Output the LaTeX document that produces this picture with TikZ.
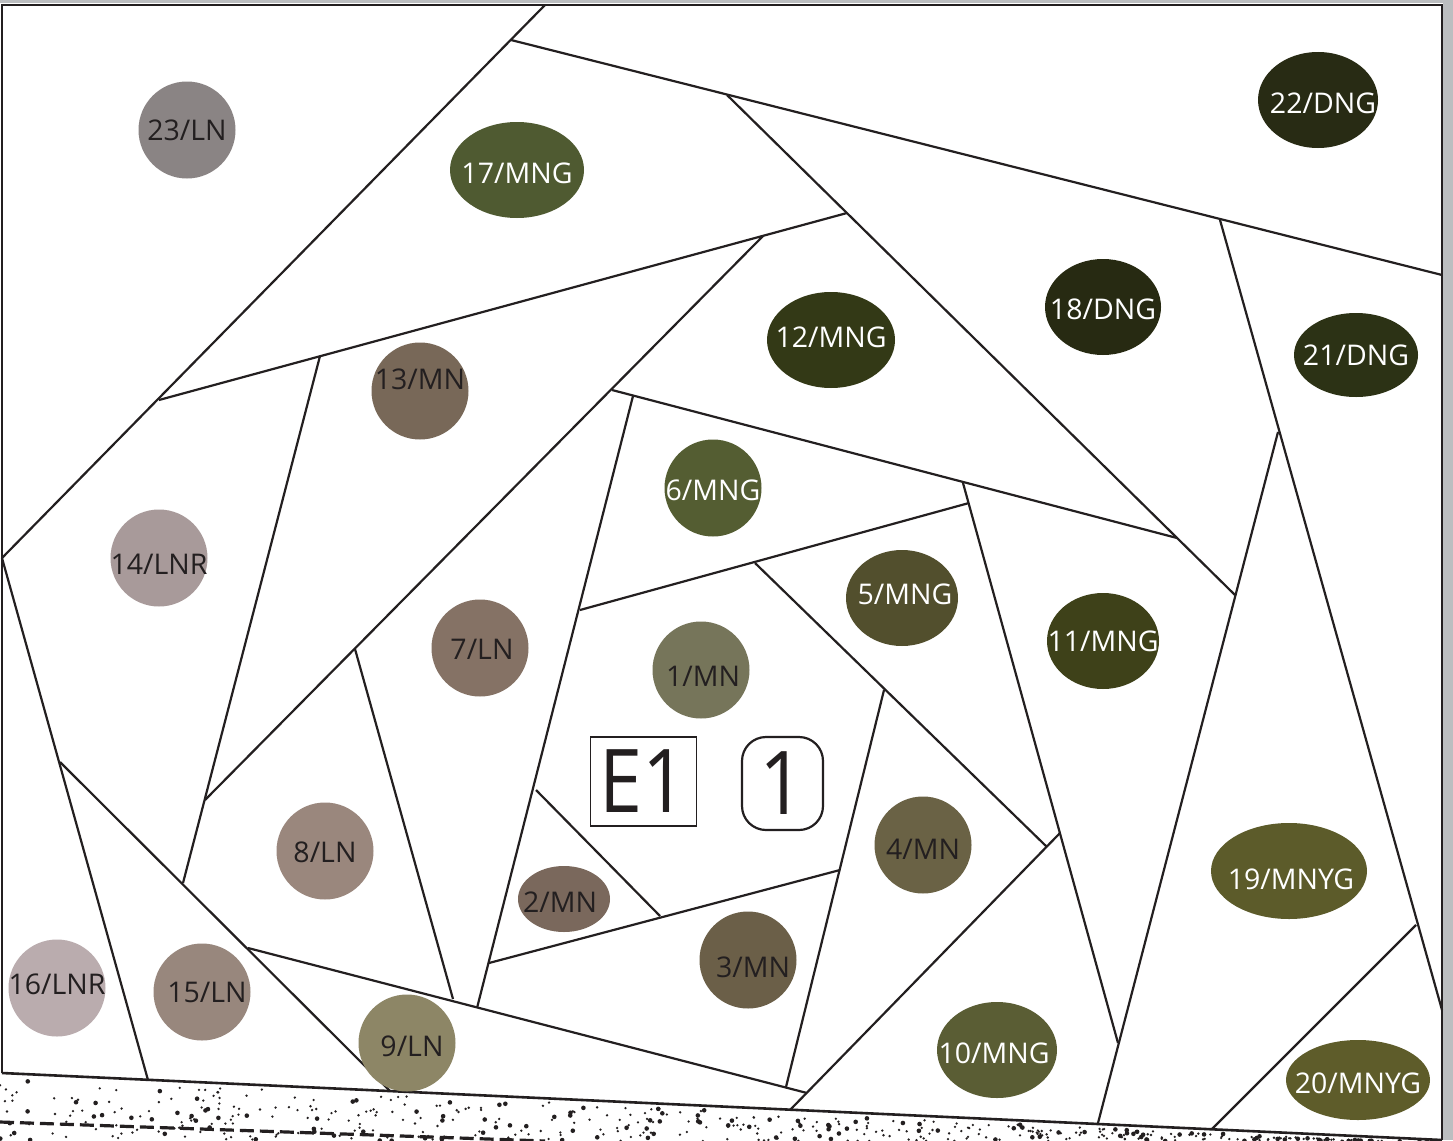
\documentclass[tikz,border=0pt]{standalone}
\usepackage{fontspec}
\setmainfont{Open Sans}
\usetikzlibrary{shapes.geometric,calc}
\definecolor{ink}{HTML}{231F20}
\definecolor{edge}{HTML}{BCBEC0}
\tikzset{
  seam/.style={draw=ink, line width=2.2pt},
  frameline/.style={draw=ink, line width=2.6pt},
  blob/.style={ellipse, draw=none, inner sep=0pt, outer sep=0pt},
  lbl/.style={inner sep=0pt, font=\fontsize{28.5}{30}\selectfont},
  darklbl/.style={lbl, text=ink},
  lightlbl/.style={lbl, text=white},
}
\newcommand{\blobnode}[9]{%
  \definecolor{col#1}{HTML}{#6}%
  \node[blob, fill=col#1, minimum width=#4pt, minimum height=#5pt] (#1) at (#2,#3) {};
  \node[#7] (#1t) at ($(#1)+(#9)$) {#8};
}
\begin{document}
\begin{tikzpicture}[x=1pt,y=-1pt]
\useasboundingbox (0,0) rectangle (1453,1140);
\fill[white] (0,0) rectangle (1453,1140);
\fill[edge] (0,0) rectangle (1453,3);
\fill[edge] (1443,0) rectangle (1453,1140);

% coordinates
\coordinate (TL) at (2,5);
\coordinate (TR) at (1442,5);
\coordinate (BR) at (1442,1140);
\coordinate (BL) at (2,1073);
\coordinate (a1) at (545,5);    \coordinate (a1e) at (2,558);
\coordinate (a2) at (511,40);   \coordinate (a2e) at (1442,275);
\coordinate (a3) at (727,95);   \coordinate (a3e) at (1235,595);
\coordinate (a4) at (847,213);  \coordinate (a4e) at (159,400);
\coordinate (a5) at (1220,220); \coordinate (a5e) at (1442,1010);
\coordinate (a6) at (1278,432); \coordinate (a6e) at (1098,1123);
\coordinate (a7) at (763,236);  \coordinate (a7e) at (205,800);
\coordinate (a8) at (612,390);  \coordinate (a8e) at (1177,538);
\coordinate (a9) at (320,356);  \coordinate (a9e) at (183,883);
\coordinate (a10) at (633,396); \coordinate (a10e) at (477,1008);
\coordinate (a11) at (963,483); \coordinate (a11e) at (1118,1043);
\coordinate (a12) at (969,503); \coordinate (a12e) at (580,610);
\coordinate (a13) at (755,563); \coordinate (a13e) at (1047,847);
\coordinate (a14) at (884,690); \coordinate (a14e) at (786,1087);
\coordinate (a15) at (840,870); \coordinate (a15e) at (489,963);
\coordinate (a16) at (536,790); \coordinate (a16e) at (660,916);
\coordinate (a17) at (355,649); \coordinate (a17e) at (453,999);
\coordinate (a18) at (60,762);  \coordinate (a18e) at (390,1091);
\coordinate (a19) at (2,558);   \coordinate (a19e) at (148,1080);
\coordinate (a20) at (248,948); \coordinate (a20e) at (807,1093);
\coordinate (a21) at (1060,833);\coordinate (a21e) at (790,1110);
\coordinate (a22) at (1416,925);\coordinate (a22e) at (1212,1129);

% stipple below the bottom edge
\pgfmathsetseed{7}
\foreach \i in {1,...,480}{
  \pgfmathsetmacro\px{rnd*1442}
  \pgfmathsetmacro\ly{1073+\px*0.0465+4}
  \pgfmathsetmacro\py{\ly+rnd*(1141-\ly)}
  \pgfmathsetmacro\pr{rnd<0.3 ? 2.3 : 1.3}
  \fill[ink] (\px,\py) circle (\pr);
}
\coordinate (d1) at (0,1122);
\coordinate (d2) at (545,1141);
\draw[ink, line width=3.2pt, dash pattern=on 14pt off 6pt] (d1) -- (d2);

% seams
\foreach \s in {1,...,22}{
  \draw[seam] (a\s) -- (a\s e);
}
% frame
\draw[frameline, line join=miter] (BL) -- (TL) -- (TR) -- (BR);
\draw[frameline] (BL) -- (BR);

% patches
\blobnode{c23}{187}{130}{97}{97}{8A8484}{darklbl}{23/LN}{0,0}
\blobnode{c17}{517}{170}{134}{96}{4F5A31}{lightlbl}{17/MNG}{0,3}
\blobnode{c22}{1318}{100}{120}{96}{282B14}{lightlbl}{22/DNG}{5,3}
\blobnode{c18}{1103}{307}{116}{96}{272A12}{lightlbl}{18/DNG}{0,2}
\blobnode{c12}{831}{340}{128}{96}{333916}{lightlbl}{12/MNG}{0,-3}
\blobnode{c21}{1356}{355}{124}{84}{2C3215}{lightlbl}{21/DNG}{0,0}
\blobnode{c13}{420}{391}{97}{97}{786858}{darklbl}{13/MN}{0,-12}
\blobnode{c6}{713}{488}{97}{97}{545D32}{lightlbl}{6/MNG}{0,2}
\blobnode{c14}{159}{558}{97}{97}{A89A9A}{darklbl}{14/LNR}{0,6}
\blobnode{c5}{902}{598}{112}{96}{524F2D}{lightlbl}{5/MNG}{3,-4}
\blobnode{c11}{1103}{641}{112}{96}{3E4119}{lightlbl}{11/MNG}{0,0}
\blobnode{c7}{480}{648}{97}{97}{857265}{darklbl}{7/LN}{2,1}
\blobnode{c1}{701}{670}{97}{97}{76755A}{darklbl}{1/MN}{2,6}
\blobnode{c4}{923}{845}{97}{97}{6A6245}{darklbl}{4/MN}{0,4}
\blobnode{c8}{325}{851}{97}{97}{9A877D}{darklbl}{8/LN}{0,1}
\blobnode{c19}{1289}{871}{156}{96}{5C5B2A}{lightlbl}{19/MNYG}{2,8}
\blobnode{c2}{564}{899}{92}{66}{7A685C}{darklbl}{2/MN}{-4,3}
\blobnode{c3}{748}{960}{97}{97}{6B5F48}{darklbl}{3/MN}{5,7}
\blobnode{c16}{57}{988}{97}{97}{BAACAE}{darklbl}{16/LNR}{0,-4}
\blobnode{c15}{202}{992}{97}{97}{98877D}{darklbl}{15/LN}{5,0}
\blobnode{c9}{407}{1043}{97}{97}{8D8666}{darklbl}{9/LN}{5,3}
\blobnode{c10}{997}{1050}{120}{96}{5A5D34}{lightlbl}{10/MNG}{-3,3}
\blobnode{c20}{1358}{1080}{144}{80}{5E5C2A}{lightlbl}{20/MNYG}{0,3}

% labels
\node[draw=ink, line width=1.6pt, minimum width=106pt, minimum height=89pt, inner sep=0pt,
      font=\fontsize{88}{92}\selectfont, text=ink] (e1) at (643.5,781.5) {\scalebox{0.88}[1]{E1}};
\node[draw=ink, line width=2.2pt, rounded corners=24pt, minimum width=81pt, minimum height=93pt, inner sep=0pt,
      font=\fontsize{88}{92}\selectfont, text=ink] (one) at (782.5,783.5) {\scalebox{0.9}[1]{1}};
\end{tikzpicture}
\end{document}
